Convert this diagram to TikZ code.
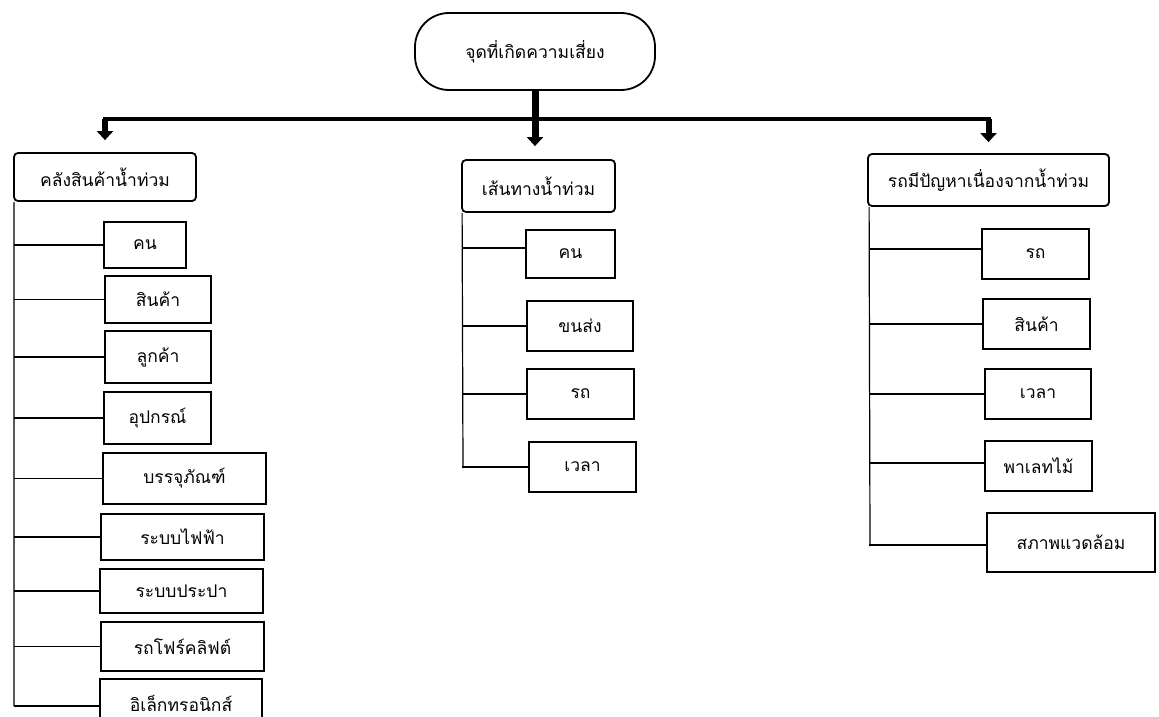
\documentclass[tikz,border=0pt]{standalone}
\usepackage{fontspec}
\newfontfamily\thaifont[Script=Thai]{Loma}
\usetikzlibrary{arrows.meta}
\tikzset{
  thtext/.style={font=\thaifont\fontsize{17.5}{20}\selectfont},
  topbox/.style={draw, line width=1.8pt, rounded corners=34pt, thtext, inner sep=0pt, minimum width=240pt, minimum height=77pt},
  headbox/.style={draw, line width=1.8pt, rounded corners=4pt, thtext, inner sep=0pt, minimum height=50pt},
  cbox/.style={draw, line width=1.2pt, thtext, inner sep=0pt},
  conn/.style={line width=1.2pt},
  barline/.style={line width=4pt, line cap=rect},
  bigarrow/.style={line width=6pt, -{Triangle[width=16pt,length=9pt]}},
}
\begin{document}
\begin{tikzpicture}[x=1pt,y=-1pt]
\clip (0,0) rectangle (1159,717);
\fill[white] (0,0) rectangle (1159,717);
% top
\node[topbox] (top) at (535,51.5) {จุดที่เกิดความเสี่ยง};
% heads
\node[headbox, minimum width=182pt, minimum height=48pt] (lh) at (105,177) {คลังสินค้าน้ำท่วม};
\node[headbox, minimum width=153pt, minimum height=52pt] (mh) at (538.5,186) {เส้นทางน้ำท่วม};
\node[headbox, minimum width=241pt, minimum height=52pt] (rh) at (988.5,180) {รถมีปัญหาเนื่องจากน้ำท่วม};
% bar and arrows
\coordinate (bar) at (535,119);
\draw[barline] (lh.north |- bar) -- (rh.north |- bar);
\draw[bigarrow, line width=7pt, shorten >=13pt] (top.south) -- (top.south |- mh.north);
\draw[bigarrow, shorten >=12pt] (lh.north |- bar) -- (lh.north);
\draw[bigarrow, shorten >=11pt] (rh.north |- bar) -- (rh.north);
% left children
\node[cbox, minimum width=82pt, minimum height=46pt] (l1) at (145,245) {คน};
\node[cbox, minimum width=106pt, minimum height=47pt] (l2) at (158,299.5) {สินค้า};
\node[cbox, minimum width=106pt, minimum height=52pt] (l3) at (158,357) {ลูกค้า};
\node[cbox, minimum width=107pt, minimum height=52pt] (l4) at (157.5,418) {อุปกรณ์};
\node[cbox, minimum width=163pt, minimum height=51pt] (l5) at (184.5,478.5) {บรรจุภัณฑ์};
\node[cbox, minimum width=163pt, minimum height=46pt] (l6) at (182.5,537) {ระบบไฟฟ้า};
\node[cbox, minimum width=163pt, minimum height=44pt] (l7) at (181.5,591) {ระบบประปา};
\node[cbox, minimum width=163pt, minimum height=49pt] (l8) at (182.5,646.5) {รถโฟร์คลิฟต์};
\node[cbox, minimum width=162pt, minimum height=54pt, text depth=0pt] (l9) at (181,706) {\raisebox{5pt}{อิเล็กทรอนิกส์}};
\coordinate (ls) at ([xshift=1pt]lh.south west);
\coordinate (le) at (14,706);
\draw[conn] (ls) -- (le);
\foreach \n in {l1,l2,l3,l4,l5,l6,l7,l8,l9}{
  \draw[conn] (\n.west) -- (\n.west -| ls);
}
% middle children
\node[cbox, minimum width=89pt, minimum height=48pt] (m1) at (570.5,254) {คน};
\node[cbox, minimum width=106pt, minimum height=50pt] (m2) at (580,326) {ขนส่ง};
\node[cbox, minimum width=107pt, minimum height=50pt] (m3) at (580.5,394) {รถ};
\node[cbox, minimum width=107pt, minimum height=50pt] (m4) at (582.5,467) {เวลา};
\coordinate (ms) at ([xshift=1pt]mh.south west);
\coordinate (me) at (463,468);
\draw[conn] (ms) -- (me);
\draw[conn] ([yshift=6pt]m1.west) -- ([yshift=6pt]m1.west -| ms);
\foreach \n in {m2,m3,m4}{
  \draw[conn] (\n.west) -- (\n.west -| ms);
}
% right children
\node[cbox, minimum width=107pt, minimum height=50pt] (r1) at (1035.5,254) {รถ};
\node[cbox, minimum width=107pt, minimum height=50pt] (r2) at (1036.5,324) {สินค้า};
\node[cbox, minimum width=106pt, minimum height=50pt] (r3) at (1038,394) {เวลา};
\node[cbox, minimum width=107pt, minimum height=50pt] (r4) at (1038.5,466) {พาเลทไม้};
\node[cbox, minimum width=168pt, minimum height=59pt] (r5) at (1071,542.5) {สภาพแวดล้อม};
\coordinate (rs) at ([xshift=2pt]rh.south west);
\coordinate (re) at (870,546);
\draw[conn] (rs) -- (re);
\draw[conn] ([yshift=5pt]r1.west) -- ([yshift=5pt]r1.west -| rs);
\draw[conn] ([yshift=3pt]r4.west) -- ([yshift=3pt]r4.west -| rs);
\draw[conn] ([yshift=-2.5pt]r5.west) -- ([yshift=-2.5pt]r5.west -| rs);
\foreach \n in {r2,r3}{
  \draw[conn] (\n.west) -- (\n.west -| rs);
}
\end{tikzpicture}
\end{document}
